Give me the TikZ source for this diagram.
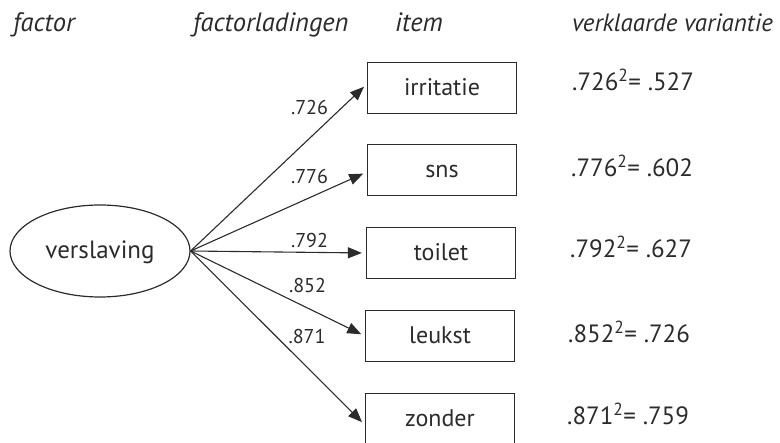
\documentclass[tikz,border=0pt]{standalone}
\usepackage{fontspec}
\setmainfont{PT Sans}
\usetikzlibrary{arrows.meta,shapes.geometric}
\definecolor{ink}{HTML}{2B2B2B}
\tikzset{
  heading/.style={anchor=base west, inner sep=0pt, text=ink,
    font=\fontsize{26.5}{30}\selectfont\itshape},
  factorbox/.style={ellipse, draw=ink, line width=1.2pt, minimum width=180pt,
    minimum height=92pt, inner sep=0pt, text=ink,
    font=\fontsize{25}{30}\selectfont, text height=18pt, text depth=3pt},
  itembox/.style={rectangle, draw=ink, line width=1.2pt, minimum width=149pt,
    minimum height=51pt, inner sep=0pt, text=ink,
    font=\fontsize{24}{30}\selectfont, text height=18pt, text depth=3pt},
  loading/.style={anchor=base, inner sep=0pt, text=ink,
    font=\fontsize{20}{24}\selectfont},
  explained/.style={anchor=base west, inner sep=0pt, text=ink,
    font=\fontsize{25}{30}\selectfont},
  loadarrow/.style={draw=ink, line width=1.1pt,
    -{Triangle[length=14pt,width=11pt]}, shorten >=4pt}
}
\begin{document}
\begin{tikzpicture}[x=1pt,y=-1pt]
\useasboundingbox (0,0) rectangle (780,443);
\clip (0,0) rectangle (780,443);

% column headings
\node[heading] (hfactor) at (13,32) {factor};
\node[heading] (hload)   at (193,32) {factorladingen};
\node[heading] (hitem)   at (395,32) {item};
\node[heading, font=\fontsize{25}{30}\selectfont\itshape] (hvar) at (572,32) {verklaarde variantie};

% latent factor
\node[factorbox] (f) at (100,251) {verslaving};

% observed items
\node[itembox] (i1) at (442,88)  {irritatie};
\node[itembox] (i2) at (442,170) {sns};
\node[itembox] (i3) at (441,253) {toilet};
\node[itembox] (i4) at (440,336) {leukst};
\node[itembox] (i5) at (440,419) {zonder};

% loadings
\draw[loadarrow] (f.east) -- ([yshift=4pt]i1.west);
\draw[loadarrow] (f.east) -- ([yshift=-2pt]i2.west);
\draw[loadarrow] (f.east) -- (i3.west);
\draw[loadarrow] (f.east) -- (i4.west);
\draw[loadarrow] (f.east) -- ([yshift=-6pt]i5.west);

\node[loading] (l1) at (309.5,115) {.726};
\node[loading] (l2) at (309.5,184) {.776};
\node[loading] (l3) at (309.5,248) {.792};
\node[loading] (l4) at (307.5,293) {.852};
\node[loading] (l5) at (307,344)   {.871};

% explained variance
\node[explained] (v1) at (572,90.5) {.726\textsuperscript{2}= .527};
\node[explained] (v2) at (571,177)  {.776\textsuperscript{2}= .602};
\node[explained] (v3) at (570,258)  {.792\textsuperscript{2}= .627};
\node[explained] (v4) at (568,343)  {.852\textsuperscript{2}= .726};
\node[explained] (v5) at (567,425)  {.871\textsuperscript{2}= .759};
\end{tikzpicture}
\end{document}
